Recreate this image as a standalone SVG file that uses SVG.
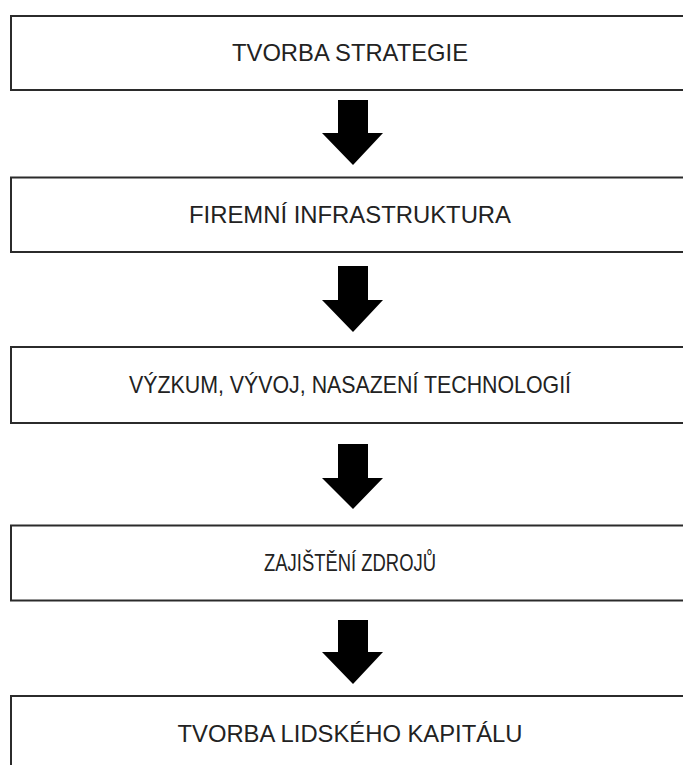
<svg xmlns="http://www.w3.org/2000/svg" width="683" height="765" viewBox="0 0 683 765">
<style>
.box{fill:#ffffff;stroke:#2b2b2b;stroke-width:2}
.lbl{font-family:"Liberation Sans",Arial,sans-serif;font-size:24px;fill:#222222;text-anchor:middle}
.arr{fill:#000000}
</style>
<rect width="683" height="765" fill="#ffffff"/>
<g id="connectors">
<polygon class="arr" points="338,100 368,100 368,133 383,133 353,165 322,133 338,133"/>
<polygon class="arr" points="338,266 368,266 368,300 383,300 353,332 322,300 338,300"/>
<polygon class="arr" points="338,444 368,444 368,478 383,478 353,509 322,478 338,478"/>
<polygon class="arr" points="338,620 368,620 368,652 383,652 353,684 322,652 338,652"/>
</g>
<g id="n1"><rect class="box" x="11" y="16" width="690" height="74"/><text class="lbl" x="350" y="61" textLength="236" lengthAdjust="spacingAndGlyphs">TVORBA STRATEGIE</text></g>
<g id="n2"><rect class="box" x="11" y="177.5" width="690" height="74.5"/><text class="lbl" x="350" y="223" textLength="322" lengthAdjust="spacingAndGlyphs">FIREMNÍ INFRASTRUKTURA</text></g>
<g id="n3"><rect class="box" x="11" y="347" width="690" height="76"/><text class="lbl" x="350" y="393" textLength="442" lengthAdjust="spacingAndGlyphs">VÝZKUM, VÝVOJ, NASAZENÍ TECHNOLOGIÍ</text></g>
<g id="n4"><rect class="box" x="11" y="525.5" width="690" height="75"/><text class="lbl" x="350" y="571" textLength="172" lengthAdjust="spacingAndGlyphs">ZAJIŠTĚNÍ ZDROJŮ</text></g>
<g id="n5"><rect class="box" x="11" y="696" width="690" height="75"/><text class="lbl" x="350" y="742" textLength="345" lengthAdjust="spacingAndGlyphs">TVORBA LIDSKÉHO KAPITÁLU</text></g>
</svg>
